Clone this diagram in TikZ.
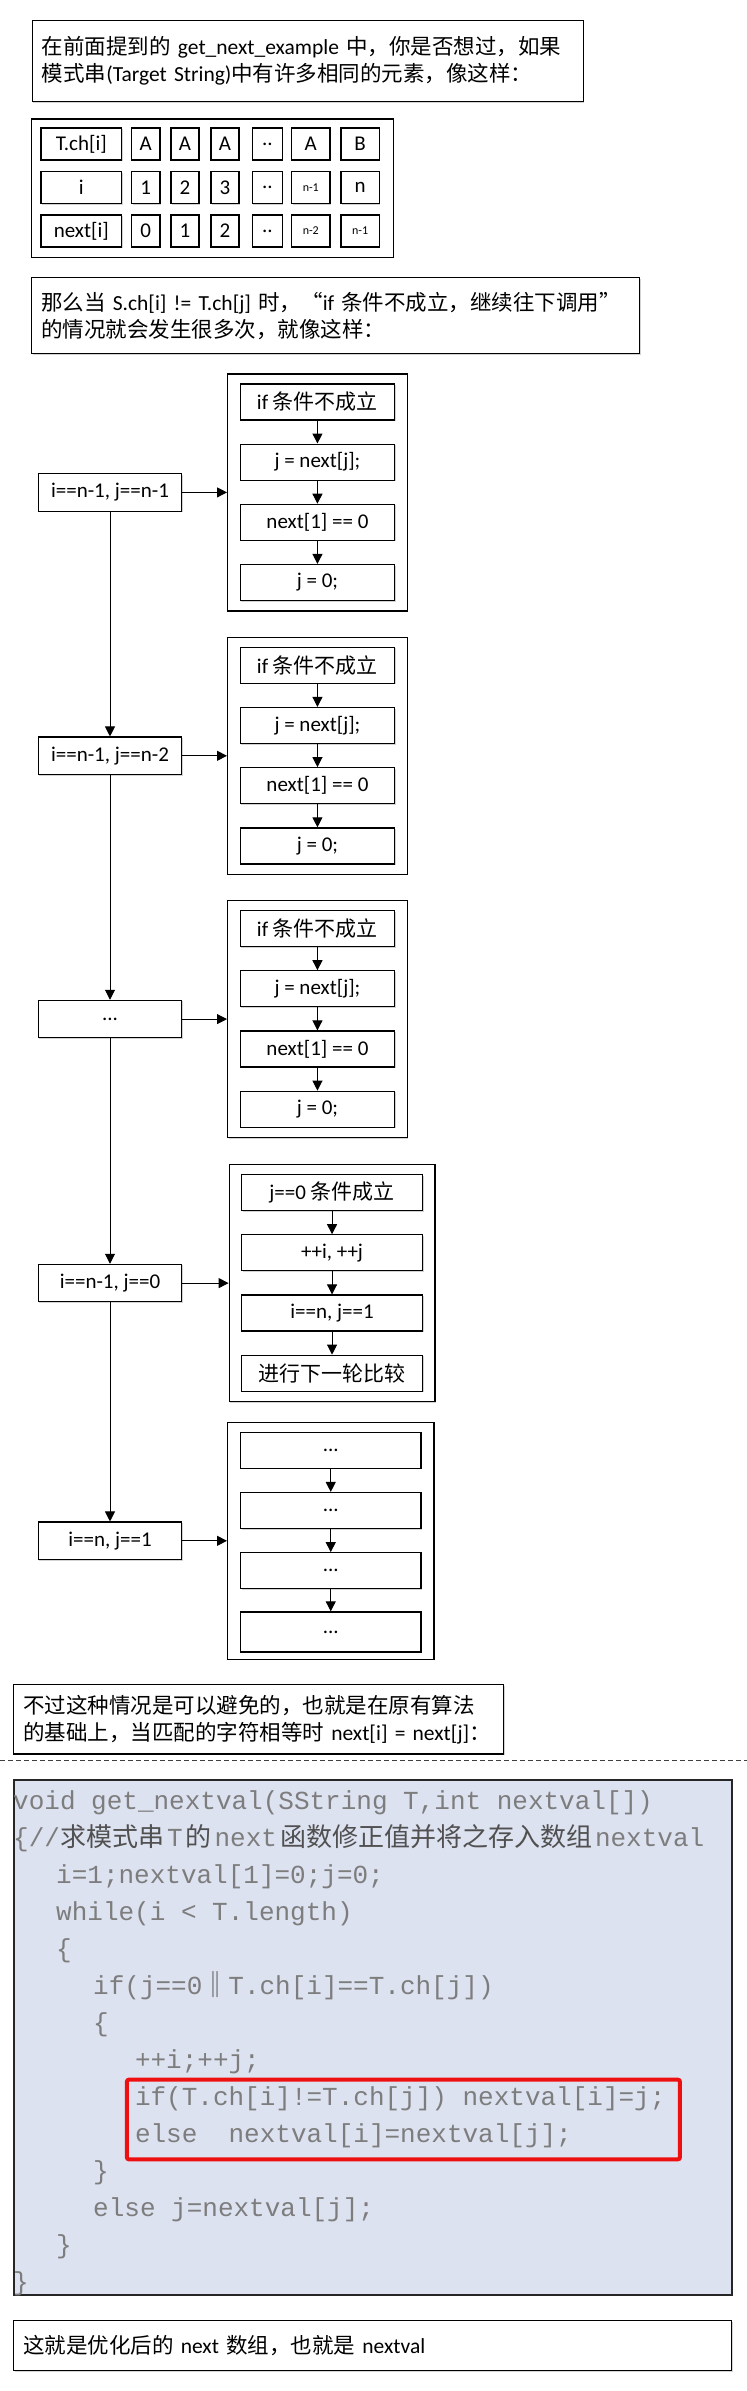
\documentclass[tikz,border=0pt]{standalone}
\usepackage{fontspec}
\setmainfont{Carlito}
\newfontfamily\cjk{Noto Sans CJK SC}
\newfontfamily\codefont{Liberation Mono}
\usetikzlibrary{
  arrows.meta,
  positioning,
  shadows
}
\definecolor{codebg}{RGB}{221,226,241}
\definecolor{codegray}{RGB}{125,125,125}
\definecolor{codedark}{RGB}{80,80,80}
\definecolor{hlred}{RGB}{238,16,16}
\newcommand{\txtfont}{\fontsize{21.5}{27}\selectfont}
\newcommand{\cellfont}{\fontsize{21}{25}\selectfont}
\newcommand{\smallcell}{\fontsize{12}{14}\selectfont}
\newcommand{\codesize}{\fontsize{26}{30}\selectfont}
\newcommand{\cjkgray}[1]{{\cjk\color{codedark}#1}}
\tikzset{
  boxshadow/.style={
    drop shadow={shadow xshift=1pt, shadow yshift=-1pt, opacity=0.35}
  },
  note/.style={
    rectangle, draw, line width=1.2pt, fill=white, anchor=north west,
    align=left, inner xsep=9.5pt, inner ysep=0pt, font=\txtfont, boxshadow
  },
  tableframe/.style={
    rectangle, draw, line width=1.2pt, fill=white, anchor=north west, boxshadow
  },
  cell/.style={
    rectangle, draw, line width=1.2pt, fill=white, inner sep=0pt,
    minimum height=32pt, font=\cellfont, boxshadow
  },
  grpbox/.style={
    rectangle, draw, line width=1.2pt, fill=white, anchor=north west,
    minimum height=237pt, boxshadow
  },
  stepbox/.style={
    rectangle, draw, line width=1.2pt, fill=white, inner sep=0pt,
    minimum height=36pt, font=\cellfont, boxshadow
  },
  cond/.style={stepbox, minimum width=143.4pt, minimum height=37.5pt},
  arrow/.style={-{Triangle[length=10pt, width=10pt]}, line width=1pt},
  cutline/.style={dash pattern=on 5pt off 3pt, line width=0.8pt, black!75},
  codebox/.style={
    rectangle, draw=black!85, line width=1.5pt, fill=codebg, anchor=north west
  },
  codeline/.style={
    anchor=base west, inner sep=0pt, font=\codefont\codesize, text=codegray
  },
  hlbox/.style={
    rectangle, draw=hlred, line width=4pt, rounded corners=2pt, anchor=north west
  }
}

\begin{document}
\begin{tikzpicture}[x=1pt, y=-1pt]
  \useasboundingbox (0,0) rectangle (747,2391);

  % opening question
  \node[note, text width=532pt, minimum height=81pt] (ask) at (31.7,20)
    {{\cjk 在前面提到的} get\_next\_example {\cjk 中，你是否想过，如果}\\
     {\cjk 模式串}(Target String){\cjk 中有许多相同的元素，像这样：}};

  % T.ch / i / next table
  \node[tableframe, minimum width=361.7pt, minimum height=138.4pt] (tbl) at (31,118.3) {};
  \foreach \c/\cx/\cw/\ta/\tb/\tc in {
      lbl/81.3/80.7/T.ch[i]/i/next[i],
      c1/145.8/28.3/A/1/0,
      c2/185/28/A/2/1,
      c3/225/28/A/3/2,
      c4/267.3/30/../../..,
      c5/310.8/38.3/A/{\smallcell n-1}/{\smallcell n-2},
      c6/360.2/38.3/B/n/{\smallcell n-1}} {
    \node[cell, minimum width=\cw] (\c-1) at (\cx,144) {\ta};
    \node[cell, minimum width=\cw] (\c-2) at (\cx,187.5) {\tb};
    \node[cell, minimum width=\cw] (\c-3) at (\cx,231) {\tc};
  }

  \node[note, text width=589pt, minimum height=76pt] (why) at (31,277)
    {{\cjk 那么当} S.ch[i] != T.ch[j] {\cjk 时，“}if {\cjk 条件不成立，继续往下调用”}\\
     {\cjk 的情况就会发生很多次，就像这样：}};

  % mismatch chain
  \coordinate (lx) at (110,0);
  \foreach \n/\y/\lab in {1/373.3/{i==n-1, j==n-1}, 2/636.7/{i==n-1, j==n-2}, 3/900/{...}} {
    \node[grpbox, minimum width=179.7pt] (g\n) at (227,\y) {};
    \node[stepbox, minimum width=154.7pt, below=10pt of g\n.north] (s\n-a) {if {\cjk 条件不成立}};
    \node[stepbox, minimum width=154.7pt, below=23pt of s\n-a] (s\n-b) {j = next[j];};
    \node[stepbox, minimum width=154.7pt, below=23pt of s\n-b] (s\n-c) {next[1] == 0};
    \node[stepbox, minimum width=154.7pt, below=23pt of s\n-c] (s\n-d) {j = 0;};
    \node[cond] (l\n) at (lx |- g\n) {\lab};
  }

  \node[grpbox, minimum width=205.7pt] (g4) at (228.6,1164) {};
  \node[stepbox, minimum width=181pt, below=10pt of g4.north] (s4-a) {j==0 {\cjk 条件成立}};
  \node[stepbox, minimum width=181pt, below=23pt of s4-a] (s4-b) {++i, ++j};
  \node[stepbox, minimum width=181pt, below=23pt of s4-b] (s4-c) {i==n, j==1};
  \node[stepbox, minimum width=181pt, below=23pt of s4-c] (s4-d) {{\cjk 进行下一轮比较}};
  \node[cond] (l4) at (lx |- g4) {i==n-1, j==0};

  \node[grpbox, minimum width=206.3pt] (g5) at (227,1421.7) {};
  \node[stepbox, minimum width=180.5pt, below=10pt of g5.north] (s5-a) {...};
  \node[stepbox, minimum width=180.5pt, below=23pt of s5-a] (s5-b) {...};
  \node[stepbox, minimum width=180.5pt, below=23pt of s5-b] (s5-c) {...};
  \node[stepbox, minimum width=180.5pt, minimum height=40pt, below=22pt of s5-c] (s5-d) {...};
  \node[cond] (l5) at (lx |- g5) {i==n, j==1};

  \foreach \n in {1,...,5} {
    \draw[arrow] (s\n-a) -- (s\n-b);
    \draw[arrow] (s\n-b) -- (s\n-c);
    \draw[arrow] (s\n-c) -- (s\n-d);
    \draw[arrow] (l\n) -- (g\n);
  }
  \foreach \a/\b in {1/2, 2/3, 3/4, 4/5}
    \draw[arrow] (l\a) -- (l\b);

  \node[note, text width=471pt, minimum height=69.3pt] (fix) at (13,1684)
    {{\cjk 不过这种情况是可以避免的，也就是在原有算法}\\
     {\cjk 的基础上，当匹配的字符相等时} next[i] = next[j]{\cjk ：}};

  \draw[cutline] (0,1760) -- (747,1760);

  % get_nextval listing
  \node[codebox, minimum width=718pt, minimum height=514.7pt] (code) at (13,1779.3) {};
  \node[codeline] (k0) at (13,1809) {void get\_nextval(SString T,int nextval[])};
  \node[codeline] (k1) at (13,1846) {\{//\cjkgray{求模式串}\hspace{3pt}T\hspace{3pt}\cjkgray{的}\hspace{3pt}next\hspace{3pt}\cjkgray{函数修正值并将之存入数组}\hspace{3pt}nextval};
  \node[codeline] (k2) at (56,1883) {i=1;nextval[1]=0;j=0;};
  \node[codeline] (k3) at (56,1920) {while(i < T.length)};
  \node[codeline] (k4) at (56,1957) {\{};
  \node[codeline] (k5) at (93,1994) {if(j==0\cjkgray{‖}T.ch[i]==T.ch[j])};
  \node[codeline] (k6) at (93,2031) {\{};
  \node[codeline] (k7) at (134.8,2068) {++i;++j;};
  \node[codeline] (k8) at (134.8,2105) {if(T.ch[i]!=T.ch[j]) nextval[i]=j;};
  \node[codeline] (k9) at (134.8,2142) {else~~nextval[i]=nextval[j];};
  \node[codeline] (k10) at (93,2179) {\}};
  \node[codeline] (k11) at (93,2216) {else j=nextval[j];};
  \node[codeline] (k12) at (56,2253) {\}};
  \node[codeline] (k13) at (13,2290) {\}};
  \node[hlbox, minimum width=553pt, minimum height=79.6pt] (hl) at (124.9,2077.7) {};

  \node[note, text width=699pt, minimum height=50pt] (done) at (13,2320)
    {{\cjk 这就是优化后的} next {\cjk 数组，也就是} nextval};
\end{tikzpicture}
\end{document}
